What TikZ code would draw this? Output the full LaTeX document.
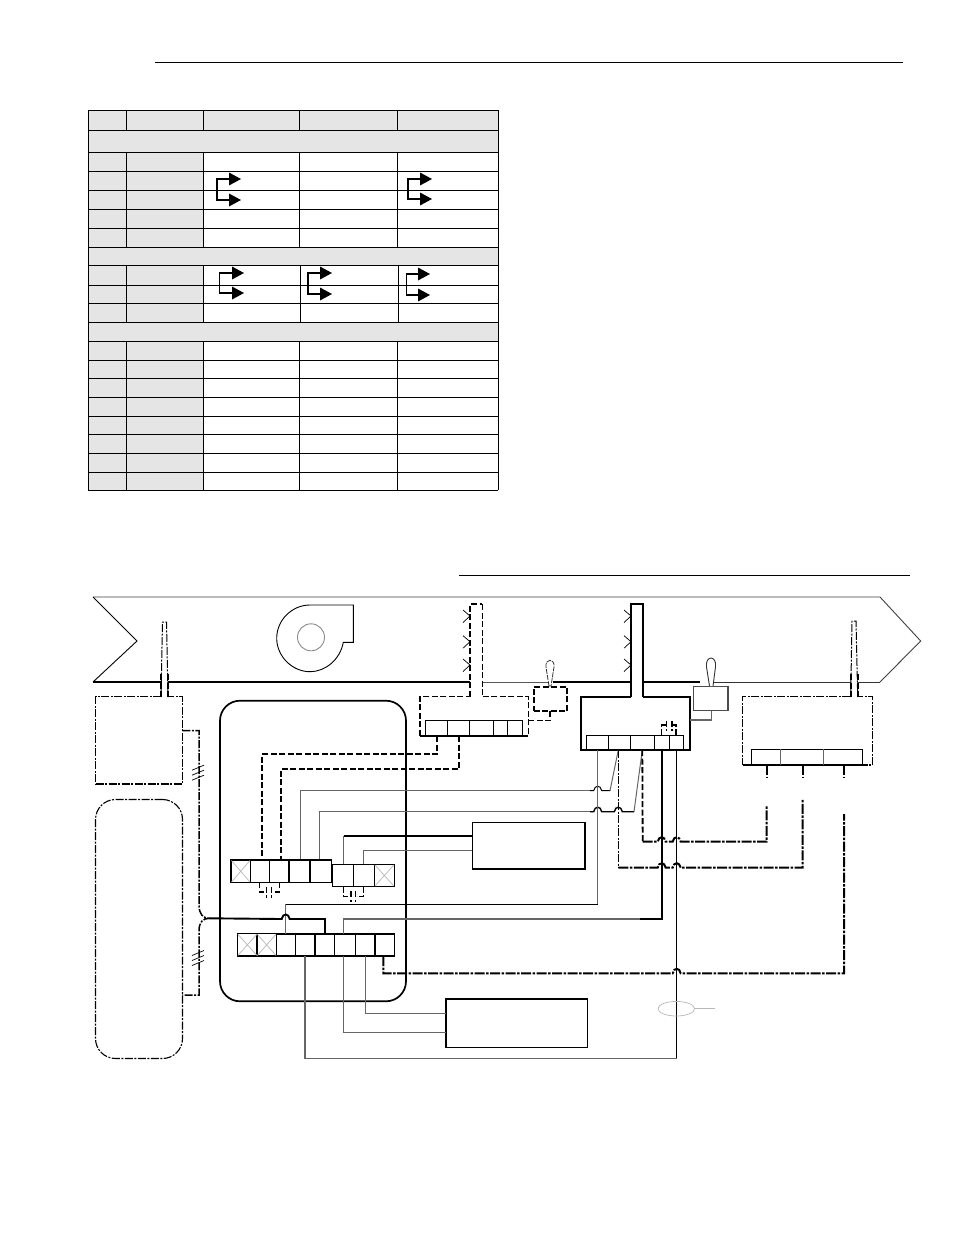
\documentclass[tikz,border=0pt]{standalone}
\usetikzlibrary{shapes.geometric}
\begin{document}
\begin{tikzpicture}[x=1pt,y=-1pt,line join=miter,
  thinw/.style={line width=1pt,draw=black},
  grayw/.style={line width=1pt,draw=black!60},
  heavy/.style={line width=1.9pt,draw=black},
  hdash/.style={line width=1.8pt,draw=black,dash pattern=on 6pt off 2.5pt},
  tdash/.style={line width=1pt,draw=black,dash pattern=on 6pt off 2.5pt},
  dashdot/.style={line width=1pt,draw=black,dash pattern=on 8pt off 1.5pt on 2pt off 1.5pt},
  hdashdot/.style={line width=2pt,draw=black,dash pattern=on 10pt off 1.5pt on 2.5pt off 1.5pt},
  box/.style={draw=black,line width=1.6pt,inner sep=0pt,outer sep=0pt,rectangle},
  lbox/.style={box,line width=1.1pt},
  dbox/.style={box,line width=1.1pt,dash pattern=on 8pt off 1.5pt on 2pt off 1.5pt},
  hdbox/.style={box,line width=1.8pt,dash pattern=on 6pt off 2.5pt},
  cell/.style={line width=1pt,draw=black},
  tarrow/.style={line width=1.1pt,draw=black},
  head/.style={fill=black,draw=none},
  ghost/.style={draw=black!28,line width=.7pt},
  tube/.style={fill=white,draw=none},
  chevron/.style={line width=.7pt,draw=black}]
\newcommand{\bx}[6]{%
  \pgfmathsetmacro{\bw}{#4-#2}\pgfmathsetmacro{\bh}{#5-#3}%
  \node[#6,minimum width=\bw pt,minimum height=\bh pt] (#1) at ({(#2+#4)/2},{(#3+#5)/2}) {};}
\newcommand{\hp}[2]{-- ({#1-4},#2) .. controls ({#1-3},{#2-6}) and ({#1+3},{#2-6}) .. ({#1+4},#2)}
\newcommand{\xc}[4]{\draw[ghost] (#1,#2) -- (#3,#4) (#1,#4) -- (#3,#2);}
\newcommand{\hd}[2]{\fill[head] (#1,{#2-6.5}) -- ({#1+12},#2) -- (#1,{#2+6.5}) -- cycle;}
\newcommand{\cv}[2]{\draw[chevron] ({#1-7},{#2-6}) -- (#1,#2) -- ({#1-7},{#2+6.5});}
\useasboundingbox (0,0) rectangle (954,1235);
\fill[white] (0,0) rectangle (954,1235);
% rules
\coordinate (r1a) at (155,62); \coordinate (r1b) at (903,62);
\coordinate (r2a) at (459,575); \coordinate (r2b) at (910,575);
\draw[line width=1pt] (r1a) -- (r1b);
\draw[line width=1pt] (r2a) -- (r2b);
% table
\fill[black!10] (88,110) rectangle (498,152) (88,247) rectangle (498,265) (88,322) rectangle (498,341)
  (88,110) rectangle (203,490);
\foreach \y in {110,130,152,171,190,209,228,247,265,285,303,322,341,360,378,397,416,434,453,472,490}
  \draw[cell] (88,\y) -- (498,\y);
\draw[cell] (88,110) -- (88,490) (498,110) -- (498,490);
\foreach \a/\b in {110/130,152/247,265/322,341/490} \draw[cell] (126,\a) -- (126,\b) (203,\a) -- (203,\b);
\foreach \a/\b/\c/\d in {110/130/299/397,152/247/299/397,265/322/300/398,341/490/299/397}
  \draw[cell] (\c,\a) -- (\c,\b) (\d,\a) -- (\d,\b);
\draw[tarrow] (229,179) -- (217,179) -- (217,200) -- (229,200); \hd{229}{179}\hd{229}{200}
\draw[tarrow] (420,179) -- (408,179) -- (408,199) -- (420,199); \hd{420}{179}\hd{420}{199}
\draw[tarrow] (232,273) -- (219.7,273) -- (219.7,293) -- (232,293); \hd{232}{273}\hd{232}{293}
\draw[tarrow] (320,273) -- (308,273) -- (308,294) -- (320,294); \hd{320}{273}\hd{320}{294}
\draw[tarrow] (418,274) -- (406.7,274) -- (406.7,295) -- (418,295); \hd{418}{274}\hd{418}{295}
% duct
\coordinate (d1) at (93,597); \coordinate (d2) at (880,597); \coordinate (d3) at (920.7,641);
\coordinate (d4) at (880,682); \coordinate (d5) at (93,682); \coordinate (d6) at (137,641);
\draw[line width=.9pt,black!75] (d1) -- (d2) -- (d3) -- (d4);
\draw[line width=.9pt] (d5) -- (d6) -- (d1);
\draw[line width=1.9pt] (d5) -- (482,682);
\draw[line width=1pt,black!65] (482,682) -- (548,682);
\draw[line width=1.9pt] (553,682) -- (700,682);
\draw[line width=.9pt,black!80] (714,682) -- (d4);
% fan
\draw[line width=.9pt] (310,605) -- (353.3,605) -- (353.3,642.3) -- (343.3,642.3)
  .. controls (340,660) and (325,671.7) .. (310,671.7)
  .. controls (292,671.7) and (276.7,656) .. (276.7,638.3)
  .. controls (276.7,620) and (292,605) .. (310,605) -- cycle;
\node[circle,draw=black!45,line width=.9pt,minimum size=27pt,inner sep=0pt] (fanhub) at (311,637.3) {};
% left sensor
\bx{sl}{95.7}{696.7}{182.3}{784}{dbox}
\fill[tube] (162,622) -- (166.5,622) -- (168,697.6) -- (161,697.6) -- cycle;
\draw[dashdot] (161,697) -- (162.5,622) -- (166.5,622) -- (168,697);
\draw[hdash] (161,697) -- (161,674) (168,697) -- (168,674);
% left lower rounded
\node[draw=black,line width=1.1pt,dash pattern=on 8pt off 1.5pt on 2pt off 1.5pt,rectangle,rounded corners=20pt,inner sep=0pt,minimum width=87pt,minimum height=259pt] (cloud) at (139,929) {};
% panel
\node[draw=black,line width=1.7pt,rectangle,rounded corners=20pt,inner sep=0pt,minimum width=186pt,minimum height=300.6pt] (panel) at (313,851) {};
% wires from left sensor with brace
\coordinate (br) at (209.3,918.3);
\draw[dashdot,line width=1.5pt] (182.3,730.7) -- (199,730.7) -- (199,905) .. controls (199,914) and (203,918.3) .. (br)
  .. controls (203,918.3) and (199,922) .. (199,931) -- (199,995) -- (182.3,995);
\foreach \yy in {772.7,958} \foreach \o in {-5,0,5}
  \draw[line width=.7pt] (192,{\yy+\o+2.5}) -- (204,{\yy+\o-2.5});
% damper actuator
\bx{dmp}{420}{696.7}{528.3}{736}{box,line width=1.2pt,dash pattern=on 6pt off 2.5pt}
\fill[tube] (470,604.3) rectangle (482.3,697.6);
\draw[hdash] (470,696.7) -- (470,604.3) -- (482.3,604.3);
\draw[tdash] (482.3,604.3) -- (482.3,696.7);
\foreach \yy in {616,641.7,665} \cv{470}{\yy}
\bx{dts}{425.7}{720.7}{522.7}{736}{lbox}
\foreach \x in {447.3,469.3,493.3,507.7} \draw[thinw] (\x,720.7) -- (\x,736);
\draw[line width=1.1pt,densely dotted] (420,736) -- (528.3,736);
\bx{smallb}{533.7}{686.7}{567.3}{711}{hdbox}
\coordinate (sm1) at (550,711); \coordinate (dm1) at (528.3,720.7);
\draw[tdash,line width=1.3pt] (sm1) -- (550,720.7) -- (dm1);
\draw[line width=.8pt,black!80,fill=white,dash pattern=on 5pt off 1pt] (549,686) -- (546,667) .. controls (545,658) and (555,658) .. (554,667) -- (551,686) -- cycle;
% damper wires
\coordinate (sA) at (261.7,859.3); \coordinate (sB) at (281,859.3);
\coordinate (dA) at (436.7,736); \coordinate (dB) at (459,736);
\draw[hdash] (dA) -- (436.7,754.3) -- (261.7,754.3) -- (sA);
\draw[hdash] (dB) -- (459,768.7) -- (281,768.7) -- (sB);
% main controller
\bx{ctl}{581}{696.7}{690}{750}{box}
\fill[tube] (630.7,604.3) rectangle (643.3,697.8);
\draw[heavy] (630.7,696.7) -- (630.7,604.3) -- (643.3,604.3) -- (643.3,696.7);
\foreach \yy in {616,641.7,665} \cv{631}{\yy}
\bx{cts}{586.3}{735.7}{683.3}{750}{lbox}
\foreach \x in {608.3,630.3,654.3,669} \draw[thinw] (\x,735.7) -- (\x,750);
\draw[hdash,line width=1.2pt] (661.7,735.3) -- (661.7,725) -- (665.7,725);
\draw[hdash,line width=1.2pt] (676,735.3) -- (676,725) -- (672.5,725);
\draw[hdash,line width=1.2pt] (666.7,720.7) -- (666.7,731) (672,720.7) -- (672,731);
% pressure box
\bx{pbox}{693.7}{686.7}{728}{710.7}{box,line width=1.1pt,draw=black!70}
\coordinate (pb) at (711.7,710.7); \coordinate (pc) at (690,720);
\draw[grayw,line width=1.2pt] (pb) -- (711.7,720) -- (pc);
\draw[line width=.9pt,black!80,fill=white] (709.5,686) -- (706.5,667) .. controls (705,655) and (717,655) .. (715.5,667) -- (713,686);
% right sensor
\bx{sr}{742.7}{696.7}{872.7}{765}{dbox,line width=1.5pt}
\fill[tube] (852,621) -- (856,621) -- (857.7,697.6) -- (850.7,697.6) -- cycle;
\draw[dashdot] (850.7,697) -- (852,621) -- (856,621) -- (857.7,697);
\draw[hdash] (850.7,697) -- (850.7,674) (857.7,697) -- (857.7,674);
\bx{srt}{751.7}{749.3}{862.7}{765}{lbox}
\foreach \x in {780.7,823.7} \draw[grayw] (\x,749.3) -- (\x,765);
\coordinate (sr1) at (766.7,765); \coordinate (sr2) at (802.7,765); \coordinate (sr3) at (844,765);
\coordinate (sr1b) at (766.7,778.3); \coordinate (sr2b) at (802.7,778.3); \coordinate (sr3b) at (844,778.3);
\draw[hdashdot] (sr1) -- (sr1b) (sr2) -- (sr2b) (sr3) -- (sr3b);
% strips
\bx{st1}{231}{860}{331.7}{882.3}{lbox}
\draw[line width=1.7pt] (250.3,860) -- (331.7,860);
\foreach \x in {250.3,269.3,289,310} \draw[line width=1.2pt] (\x,860) -- (\x,882.3);
\xc{231.5}{860.5}{250}{882}
\bx{st2}{332.3}{864.3}{394.3}{886.7}{lbox}
\foreach \x in {353.3,374.3} \draw[line width=1.2pt] (\x,864.3) -- (\x,886.7);
\xc{374.8}{864.8}{394}{886.2}
\bx{st3}{237.3}{933.7}{394.3}{956}{lbox}
\draw[line width=1.7pt] (276.3,933.7) -- (394.3,933.7);
\foreach \x in {257,276.3,295.3,315,334.3,355.3,375} \draw[line width=1.2pt] (\x,933.7) -- (\x,956);
\xc{237.8}{934.2}{257}{955.5}
\xc{257.3}{934.2}{276}{955.5}
% jumpers
\draw[hdash,line width=1.3pt] (259.3,882.3) -- (259.3,892) -- (265,892);
\draw[hdash,line width=1.3pt] (279.3,882.3) -- (279.3,892) -- (272.7,892);
\draw[hdash,line width=1.3pt] (266.7,886.7) -- (266.7,897.7) (271.7,886.7) -- (271.7,897.7);
\draw[hdash,line width=1.3pt] (343.3,886.7) -- (343.3,896.7) -- (349,896.7);
\draw[hdash,line width=1.3pt] (363.7,886.7) -- (363.7,896.7) -- (356.7,896.7);
\draw[hdash,line width=1.3pt] (351,891) -- (351,901.7) (355.7,891) -- (355.7,901.7);
% thin control wires
\coordinate (w1a) at (300,859.3); \coordinate (c2) at (618.3,750);
\coordinate (w2a) at (319.3,859.3); \coordinate (c3) at (642.3,750);
\draw[grayw] (w1a) -- (300,790.7) -- (590,790.7);
\draw[thinw] (590,790.7) \hp{597.7}{790.7} -- (610,790.7);
\draw[grayw] (610,790.7) -- (c2);
\draw[grayw] (w2a) -- (319.3,811.7) -- (590,811.7);
\draw[thinw,line width=1.4pt] (590,811.7) \hp{597.7}{811.7} \hp{618.3}{811.7} -- (634,811.7);
\draw[grayw] (634,811.7) -- (c3);
% box A
\bx{boxa}{472.3}{822.3}{585}{869}{box}
\coordinate (sa) at (343.7,864.3); \coordinate (sb) at (363,864.3);
\coordinate (ba1) at (472.3,835.9); \coordinate (ba2) at (472.3,850);
\draw[grayw] (sa) -- (343.7,835.9);
\draw[heavy] (343.7,835.9) -- (ba1);
\draw[grayw] (sb) -- (363,850) -- (ba2);
% box B
\bx{boxb}{446}{999}{587.3}{1047.3}{box}
\coordinate (s3a) at (365,956); \coordinate (s3b) at (343.7,956);
\coordinate (bb1) at (446,1013); \coordinate (bb2) at (446,1032);
\draw[grayw] (s3a) -- (365,1013) -- (bb1);
\draw[grayw] (s3b) -- (343.7,1032) -- (bb2);
% controller terminals to strip 3
\coordinate (c1) at (597.7,750); \coordinate (t3a) at (285.7,933.7);
\draw[grayw] (c1) -- (597.7,904.3);
\draw[thinw] (597.7,904.3) -- (285.7,904.3);
\draw[grayw] (285.7,904.3) -- (t3a);
\coordinate (c4) at (661.7,750); \coordinate (t3b) at (343.7,933.7);
\draw[heavy] (c4) -- (661.7,919) -- (640,919);
\draw[grayw,line width=1.3pt] (640,919) -- (343.7,919) -- (t3b);
\coordinate (c5) at (676.7,750); \coordinate (t3c) at (305,956);
\draw[thinw,line width=1.1pt] (c5) -- (676.7,1058.3);
\draw[grayw,line width=1.3pt] (676.7,1058.3) -- (305,1058.3) -- (t3c);
% dash-dot returns
\draw[dashdot] (c2) -- (618.3,867.7);
\draw[hdashdot] (618.3,867.7) \hp{661.7}{867.7} \hp{676.7}{867.7} -- (802.7,867.7) -- (802.7,798.3);
\draw[hdash] (c3) -- (642.7,841.7);
\draw[hdashdot] (642.7,841.7) \hp{661.7}{841.7} \hp{676.7}{841.7} -- (766.7,841.7) -- (766.7,805);
\coordinate (t3d) at (383.3,956);
\draw[hdashdot] (t3d) -- (383.3,973.3) \hp{676.7}{973.3} -- (844,973.3) -- (844,814);
% heavy wire from brace
\coordinate (t3e) at (325,933.7);
\draw[heavy] (br) \hp{285.7}{919} -- (325,919) -- (t3e);
% ellipse
\node[ellipse,draw=black!28,line width=.7pt,minimum width=36.6pt,minimum height=14.6pt,inner sep=0pt,outer sep=0pt] (ell) at (676.3,1008.7) {};
\coordinate (ellend) at (715,1008.7);
\draw[ghost] (ell.east) -- (ellend);
\end{tikzpicture}
\end{document}
